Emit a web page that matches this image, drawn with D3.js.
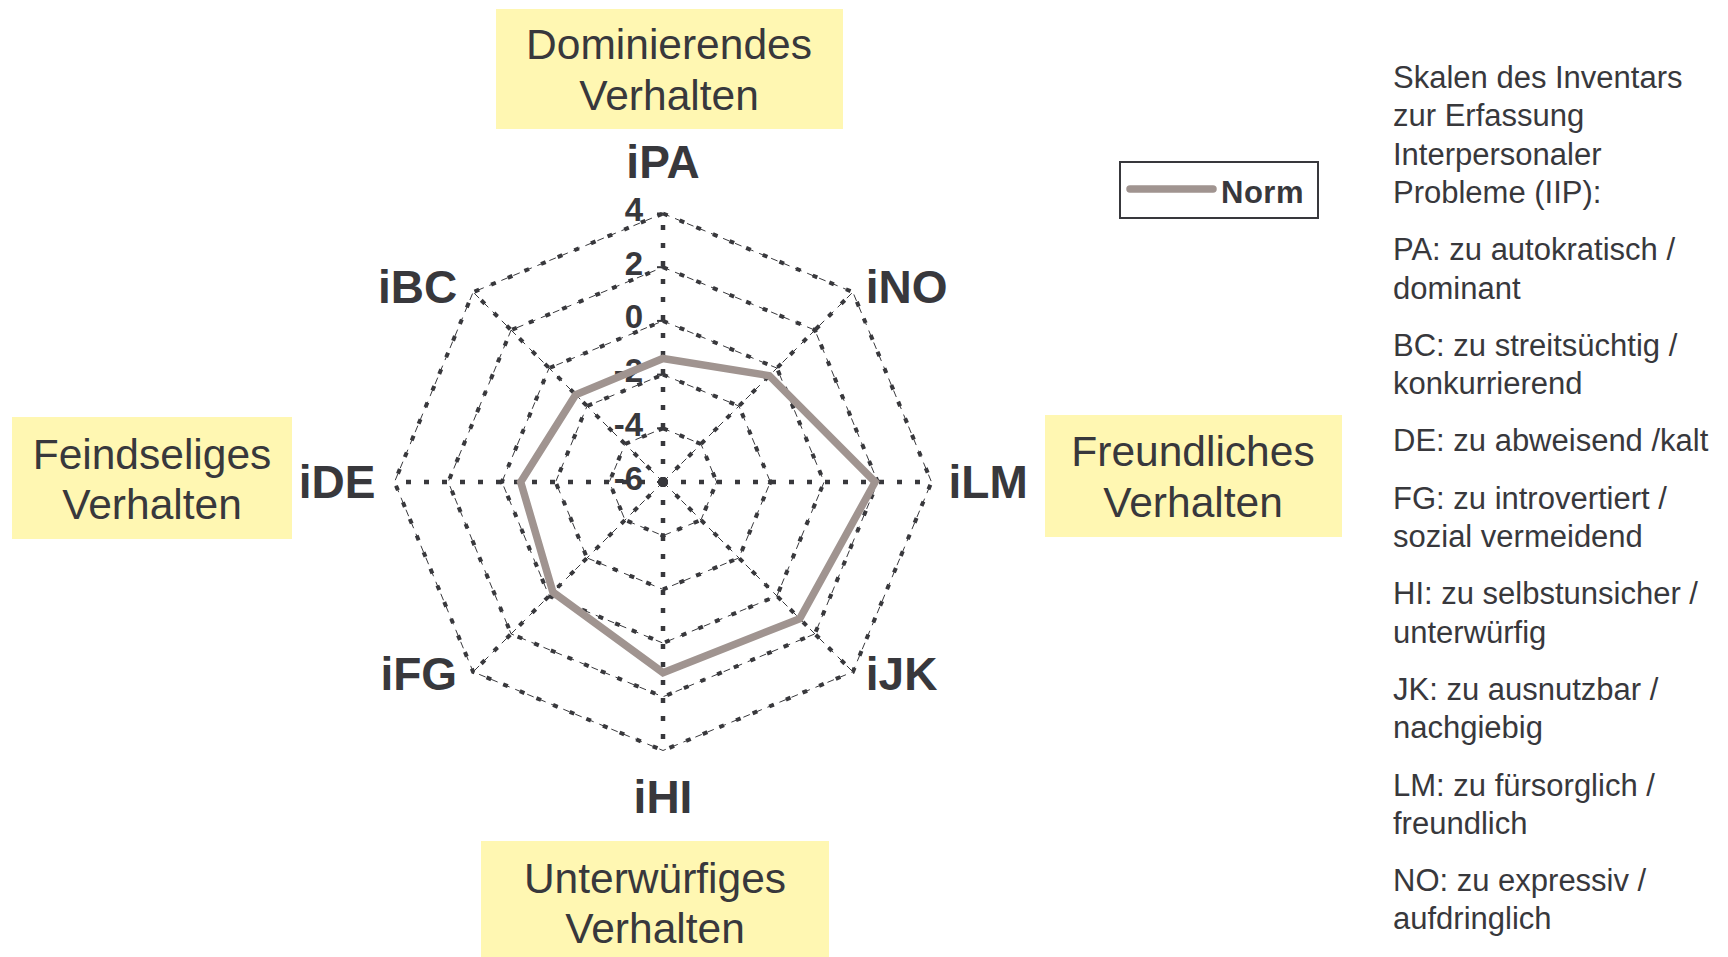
<!DOCTYPE html>
<html>
<head>
<meta charset="utf-8">
<script src="https://cdn.jsdelivr.net/npm/d3@7"></script>
<style>
  html, body { margin: 0; padding: 0; background: #ffffff; }
  svg { display: block; }
  text { font-family: "Liberation Sans", Arial, Helvetica, sans-serif; fill: #38383c; }
</style>
</head>
<body>
<svg id="chart" width="1728" height="957"></svg>
<script>
// ---- data ----
const categories = ["iPA", "iNO", "iLM", "iJK", "iHI", "iFG", "iDE", "iBC"];
const normValues = [-1.4, -0.4, 1.9, 1.2, 1.1, -0.2, -0.7, -1.4];
const seriesName = "Norm";
const tickValues = [-6, -4, -2, 0, 2, 4];
const tickLabels = ["-6", "-4", "-2", "0", "2", "4"];
const quadrantTop = ["Dominierendes", "Verhalten"];
const quadrantRight = ["Freundliches", "Verhalten"];
const quadrantBottom = ["Unterwürfiges", "Verhalten"];
const quadrantLeft = ["Feindseliges", "Verhalten"];
const notesTitle = ["Skalen des Inventars", "zur Erfassung", "Interpersonaler", "Probleme (IIP):"];
const notesPA = ["PA: zu autokratisch /", "dominant"];
const notesBC = ["BC: zu streitsüchtig /", "konkurrierend"];
const notesDE = ["DE: zu abweisend /kalt"];
const notesFG = ["FG: zu introvertiert /", "sozial vermeidend"];
const notesHI = ["HI: zu selbstunsicher /", "unterwürfig"];
const notesJK = ["JK: zu ausnutzbar /", "nachgiebig"];
const notesLM = ["LM: zu fürsorglich /", "freundlich"];
const notesNO = ["NO: zu expressiv /", "aufdringlich"];

// ---- layout ----
const svg = d3.select("#chart");
const cx = 663, cy = 482, R = 268.5;
const gridColor = "#38383c";
const lineColor = "#a09490";

const r = d3.scaleLinear().domain([-6, 4]).range([0, R]);
const ang = (c) => categories.indexOf(c) * 2 * Math.PI / categories.length;

const g = svg.append("g").attr("transform", `translate(${cx},${cy})`);

// quadrant boxes
function quadBox(lines, x0, y0, x1, y1, tx, baselines) {
  svg.append("rect").attr("x", x0).attr("y", y0).attr("width", x1 - x0).attr("height", y1 - y0)
    .attr("fill", "#fff7b2");
  const t = svg.append("text").attr("text-anchor", "middle").style("font-size", "42.5px");
  lines.forEach((l, i) => t.append("tspan").attr("x", tx).attr("y", baselines[i]).text(l));
}
quadBox(quadrantTop, 496, 9, 843, 129, 669, [59, 110]);
quadBox(quadrantLeft, 12, 417, 292, 539, 152, [469, 519]);
quadBox(quadrantRight, 1045, 415, 1342, 537, 1193, [466, 517]);
quadBox(quadrantBottom, 481, 841, 829, 957, 655, [893, 943]);

// grid rings
const ringValues = tickValues.filter(v => v > -6);
const radial = d3.lineRadial()
  .angle(d => ang(d.c))
  .radius(d => r(d.v))
  .curve(d3.curveLinearClosed);

ringValues.forEach(v => {
  const pts = categories.map(c => ({ c, v }));
  g.append("path").attr("d", radial(pts)).attr("fill", "none")
    .attr("stroke", gridColor).attr("stroke-width", 1).attr("stroke-dasharray", "7 6");
  g.append("path").attr("d", radial(pts)).attr("fill", "none")
    .attr("stroke", gridColor).attr("stroke-width", 4).attr("stroke-dasharray", "5 13");
});

// spokes
categories.forEach(c => {
  const a = ang(c);
  const x2 = r(4) * Math.sin(a), y2 = -r(4) * Math.cos(a);
  const mainAxis = Math.abs(Math.sin(a)) < 0.01 || Math.abs(Math.cos(a)) < 0.01;
  if (mainAxis) {
    g.append("line").attr("x1", 0).attr("y1", 0).attr("x2", x2).attr("y2", y2)
      .attr("stroke", gridColor).attr("stroke-width", 4.5).attr("stroke-dasharray", "5 13");
  } else {
    g.append("line").attr("x1", 0).attr("y1", 0).attr("x2", x2).attr("y2", y2)
      .attr("stroke", gridColor).attr("stroke-width", 1).attr("stroke-dasharray", "7 6");
    g.append("line").attr("x1", 0).attr("y1", 0).attr("x2", x2).attr("y2", y2)
      .attr("stroke", gridColor).attr("stroke-width", 4).attr("stroke-dasharray", "5 13");
  }
});

// value axis tick marks + labels (on the iPA axis)
tickValues.forEach((v, i) => {
  g.append("line").attr("x1", -6).attr("x2", 0).attr("y1", -r(v)).attr("y2", -r(v))
    .attr("stroke", gridColor).attr("stroke-width", 2);
  g.append("text").attr("x", -20).attr("y", -r(v) - 4)
    .attr("dy", "0.35em").attr("text-anchor", "end")
    .style("font-size", "33px").style("font-weight", "bold").text(tickLabels[i]);
});

// series polygon
const normPts = categories.map((c, i) => ({ c, v: normValues[i] }));
g.append("path").attr("d", radial(normPts)).attr("fill", "none")
  .attr("stroke", lineColor).attr("stroke-width", 7.5).attr("stroke-linejoin", "miter");

// category labels
categories.forEach(c => {
  const a = ang(c);
  const s = Math.sin(a), co = Math.cos(a);
  const vx = r(4) * s, vy = -r(4) * co;
  let x, y, anchor;
  if (Math.abs(s) < 0.01) {
    anchor = "middle"; x = 0; y = co > 0 ? vy - 52 : vy + 46;
  } else {
    anchor = s > 0 ? "start" : "end";
    x = vx + (s > 0 ? 13 : -16);
    if (Math.abs(co) < 0.01) { x = vx + (s > 0 ? 17 : -19); y = vy; }
    else y = co > 0 ? vy - 5 : vy + 2;
  }
  g.append("text").attr("x", x).attr("y", y).attr("dy", "0.35em").attr("text-anchor", anchor)
    .style("font-size", "46px").style("font-weight", "bold").text(c);
});

// legend
svg.append("rect").attr("x", 1120).attr("y", 162).attr("width", 198).attr("height", 56)
  .attr("fill", "#ffffff").attr("stroke", "#38383c").attr("stroke-width", 2);
svg.append("line").attr("x1", 1130).attr("x2", 1213).attr("y1", 189).attr("y2", 189)
  .attr("stroke", lineColor).attr("stroke-width", 7.5).attr("stroke-linecap", "round");
svg.append("text").attr("x", 1221).attr("y", 203).style("font-size", "31px").style("font-weight", "bold")
  .attr("letter-spacing", "0.5px").text(seriesName);

// notes on the right
const paragraphs = [notesTitle, notesPA, notesBC, notesDE, notesFG, notesHI, notesJK, notesLM, notesNO];
const notes = svg.append("text").style("font-size", "31px");
let yy = 88;
paragraphs.forEach((p) => {
  p.forEach((line) => {
    notes.append("tspan").attr("x", 1393).attr("y", yy).text(line);
    yy += 38.3;
  });
  yy += 19;
});
</script>
</body>
</html>
